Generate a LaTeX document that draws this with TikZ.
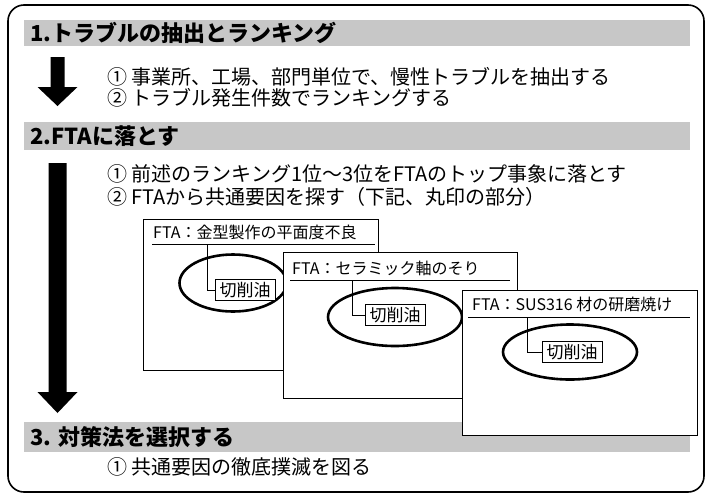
\documentclass[tikz,border=0pt]{standalone}
\usepackage{fontspec}
\setmainfont{Noto Sans CJK JP}
\usetikzlibrary{shapes.geometric}
\begin{document}
\begin{tikzpicture}[x=1pt,y=-1pt,
  band/.style={fill=black!22},
  headtext/.style={font=\fontsize{22}{22}\selectfont\bfseries, anchor=west, inner sep=0pt},
  linetext/.style={font=\fontsize{20}{20}\selectfont, anchor=west, inner sep=0pt},
  ftabox/.style={draw, line width=0.8pt, fill=white, anchor=north west, inner sep=0pt},
  ttl/.style={font=\fontsize{16}{16}\selectfont, anchor=west, inner sep=0pt},
  leaf/.style={draw, line width=0.8pt, fill=white, font=\fontsize{17}{17}\selectfont, inner xsep=4.5pt, inner ysep=3pt},
  ring/.style={ellipse, draw, line width=2.6pt, inner sep=0pt},
  link/.style={line width=0.7pt}
]
\useasboundingbox (0,0) rectangle (708,496);
\fill[white] (0,0) rectangle (708,496);
\draw[line width=1.6pt, rounded corners=16pt] (8,5) rectangle (704,492);

% section 1
\fill[band] (24,20) rectangle (690,46);
\node[headtext] (h1) at (30,33) {1.トラブルの抽出とランキング};
\fill (50.5,57) -- (64.5,57) -- (64.5,87) -- (77.5,87) -- (57.5,106) -- (37.5,87) -- (50.5,87) -- cycle;
\node[linetext] (s1a) at (107,77) {① 事業所、工場、部門単位で、慢性トラブルを抽出する};
\node[linetext] (s1b) at (107,98) {② トラブル発生件数でランキングする};

% section 2
\fill[band] (24,122) rectangle (690,150);
\node[headtext] (h2) at (30,136) {2.FTAに落とす};
\fill (48.5,163) -- (66.5,163) -- (66.5,392) -- (77.5,392) -- (57.5,413) -- (37.5,392) -- (48.5,392) -- cycle;
\node[linetext] (s2a) at (107,174) {① 前述のランキング1位～3位をFTAのトップ事象に落とす};
\node[linetext] (s2b) at (107,197) {② FTAから共通要因を探す（下記、丸印の部分）};

% section 3 band
\fill[band] (24,422) rectangle (690,452);
\node[headtext] (h3) at (30,437) {3. 対策法を選択する};
\node[linetext] (s3a) at (107,467) {① 共通要因の徹底撲滅を図る};

% FTA box 1
\node[ftabox, minimum width=235pt, minimum height=151pt] (b1) at (143,219) {};
\node[ttl] (t1) at (153,232) {FTA：金型製作の平面度不良};
\coordinate (ul1) at (152,244);
\coordinate (ur1) at (375,244);
\draw[link] (ul1) -- (ur1);
\node[ring, minimum width=107pt, minimum height=57pt] (e1) at (233,283) {};
\node[leaf] (l1) at (245,290) {切削油};
\coordinate (v1) at (207,244);
\draw[link] (v1) |- (l1.west);

% FTA box 2
\node[ftabox, minimum width=234pt, minimum height=146pt] (b2) at (283,252) {};
\node[ttl] (t2) at (292,268) {FTA：セラミック軸のそり};
\coordinate (ul2) at (290,280);
\coordinate (ur2) at (510,280);
\draw[link] (ul2) -- (ur2);
\node[ring, minimum width=134pt, minimum height=58pt] (e2) at (395,317) {};
\node[leaf] (l2) at (395,315) {切削油};
\coordinate (v2) at (352,280);
\draw[link] (v2) |- (l2.west);

% FTA box 3
\node[ftabox, minimum width=235pt, minimum height=145pt] (b3) at (462,290) {};
\node[ttl] (t3) at (472,304) {FTA：SUS316 材の研磨焼け};
\coordinate (ul3) at (468,317);
\coordinate (ur3) at (690,317);
\draw[link] (ul3) -- (ur3);
\node[ring, minimum width=134pt, minimum height=55pt] (e3) at (570,352) {};
\node[leaf] (l3) at (572,352) {切削油};
\coordinate (v3) at (527,317);
\draw[link] (v3) |- (l3.west);
\end{tikzpicture}
\end{document}
